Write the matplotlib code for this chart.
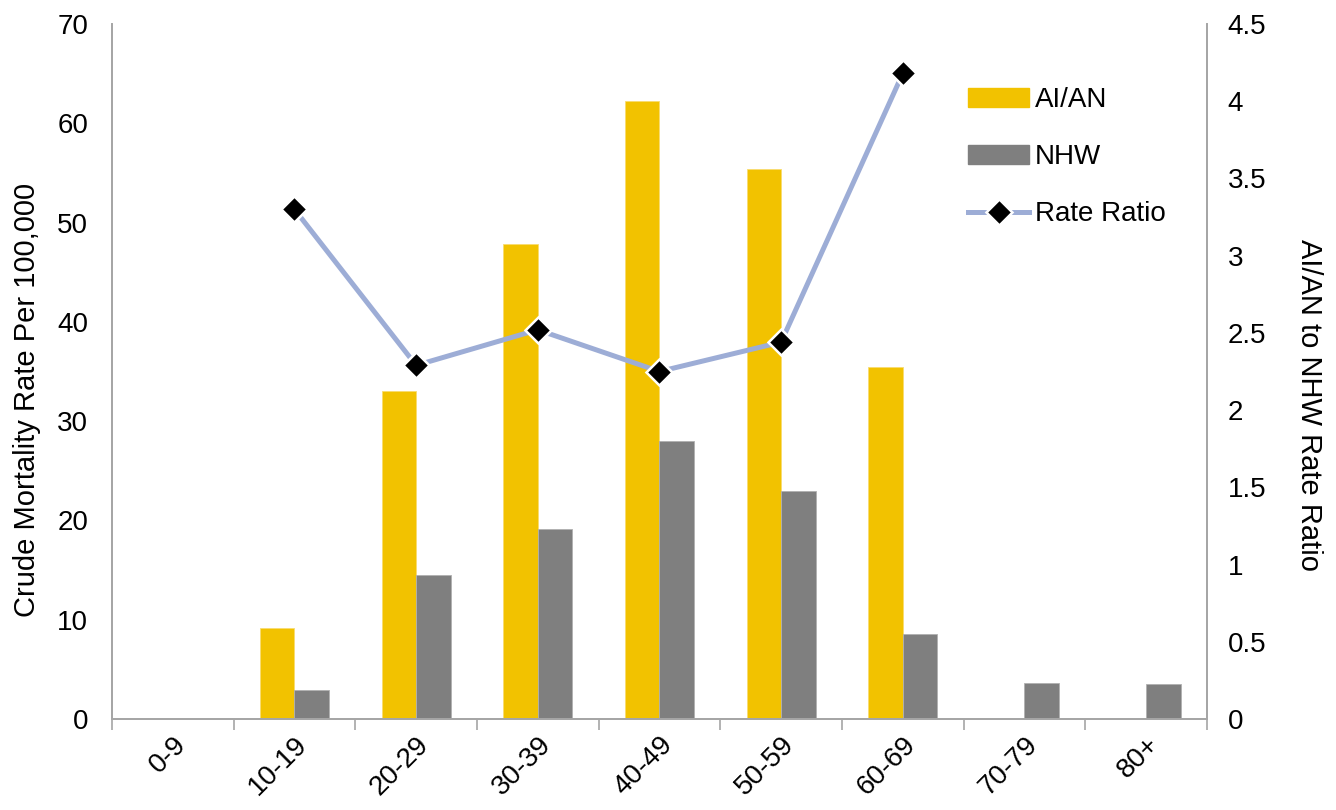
import numpy as np
import matplotlib.pyplot as plt
from matplotlib.patches import Patch
from matplotlib.lines import Line2D

plt.rcParams['font.family'] = ['Liberation Sans', 'DejaVu Sans']

ages = ['0-9', '10-19', '20-29', '30-39', '40-49', '50-59', '60-69', '70-79', '80+']
aian = [0, 9.2, 33.0, 47.8, 62.2, 55.4, 35.5, 0, 0]
nhw = [0, 2.9, 14.5, 19.1, 28.0, 23.0, 8.6, 3.6, 3.5]
ratio = [np.nan, 3.30, 2.29, 2.52, 2.25, 2.44, 4.18, np.nan, np.nan]

yellow = '#F2C200'
gray = '#7F7F7F'
blue = '#9DADD6'
axis_gray = '#A6A6A6'
fs = 20

fig = plt.figure(figsize=(13.36, 8.10), dpi=100)
ax = fig.add_axes([0.0838, 0.1123, 0.8196, 0.8581])
ax2 = ax.twinx()

x = np.arange(len(ages))
w = 0.284
ax.bar(x - w / 2, aian, w, color=yellow, edgecolor='#F8DC70', linewidth=0.6, zorder=2)
ax.bar(x + w / 2, nhw, w, color=gray, edgecolor='#B0B0B0', linewidth=0.6, zorder=2)

ax2.plot(x, ratio, color=blue, linewidth=3.6, marker='D', markersize=13,
         markerfacecolor='black', markeredgecolor='white', markeredgewidth=1.8,
         zorder=3)

ax.set_xlim(-0.5, len(ages) - 0.5)
ax.set_ylim(0, 70)
ax2.set_ylim(0, 4.5)
ax.set_yticks(np.arange(0, 71, 10))
ax2.set_yticks(np.arange(0, 4.51, 0.5))
ax2.set_yticklabels(['0', '0.5', '1', '1.5', '2', '2.5', '3', '3.5', '4', '4.5'])

ax.set_xticks(x)
ax.set_xticklabels(ages, rotation=45, ha='right', rotation_mode='anchor', fontsize=fs)
ax.set_xticks(np.arange(-0.5, len(ages), 1), minor=True)
ax.tick_params(axis='x', which='major', length=0, pad=9)
ax.tick_params(axis='x', which='minor', length=8, color=axis_gray, width=1.2)
ax.tick_params(axis='y', length=0, labelsize=fs, pad=17)
ax2.tick_params(axis='y', length=0, labelsize=fs, pad=15)

for a in (ax, ax2):
    a.spines['top'].set_visible(False)
    for s in ('left', 'right', 'bottom'):
        a.spines[s].set_color(axis_gray)
        a.spines[s].set_linewidth(1.3)

# axis titles sit a little below the middle of the axes in the original
fig.text(27 / 1336, 1 - 400 / 810, 'Crude Mortality Rate Per 100,000', fontsize=21,
         rotation=90, ha='center', va='center')
fig.text(1309 / 1336, 1 - 405 / 810, 'AI/AN to NHW Rate Ratio', fontsize=21,
         rotation=270, ha='center', va='center')

handles = [
    Patch(facecolor=yellow, edgecolor=yellow),
    Patch(facecolor=gray, edgecolor=gray),
    Line2D([0], [0], color=blue, linewidth=3.6, marker='D', markersize=13,
           markerfacecolor='black', markeredgecolor='white', markeredgewidth=1.8),
]
ax2.legend(handles, ['AI/AN', 'NHW', 'Rate Ratio'], loc='upper left',
           bbox_to_anchor=(0.759, 0.945), frameon=False, fontsize=fs,
           handlelength=2.2, handleheight=0.7, labelspacing=1.12, handletextpad=0.2)

plt.savefig('out.png', dpi=100)
